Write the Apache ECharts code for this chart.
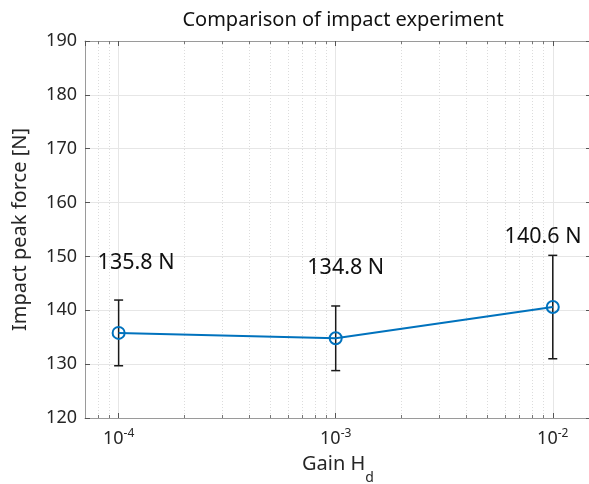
<!DOCTYPE html>
<html>
<head>
<meta charset="utf-8">
<script src="https://cdn.jsdelivr.net/npm/echarts@6/dist/echarts.min.js"></script>
<style>
html,body{margin:0;padding:0;background:#fff;overflow:hidden;}
#chart{width:589px;height:484px;}
</style>
</head>
<body>
<div id="chart"></div>
<script>
// ---- data ----
const gainValues = [1e-4, 1e-3, 1e-2];
const meanForce = [135.8, 134.8, 140.6];
const errorHalf = [6.1, 6.0, 9.6];
const annotationX = [8e-5, 7.4e-4, 6e-3];
const annotationRise = 13;
const yTickMin = 120, yTickMax = 190, yTickStep = 10;
const xMin = 7e-5, xMax = 0.015;
const minorTickValues = [8e-5, 9e-5,
  2e-4, 3e-4, 4e-4, 5e-4, 6e-4, 7e-4, 8e-4, 9e-4,
  2e-3, 3e-3, 4e-3, 5e-3, 6e-3, 7e-3, 8e-3, 9e-3];

const FONT = 'Noto Sans';
const TEXT = '#262626';
const AXIS = '#9a9a9a';
const BLUE = '#0072BD';

const chart = echarts.init(document.getElementById('chart'), null, {renderer: 'canvas'});

function isPow10(v) {
  const l = Math.log10(v);
  return Math.abs(l - Math.round(l)) < 1e-6;
}

const option = {
  backgroundColor: '#fff',
  animation: false,
  title: {
    text: 'Comparison of impact experiment',
    left: 338, textAlign: 'center', top: 5,
    textStyle: {fontFamily: FONT, fontSize: 20, fontWeight: 'normal', color: '#111'}
  },
  grid: {left: 85, width: 506, top: 41, height: 377, containLabel: false, outerBoundsMode: 'none'},
  xAxis: [{
    type: 'log', logBase: 10, min: xMin, max: xMax,
    name: 'Gain H{sub|d}', nameLocation: 'middle', nameGap: 36,
    nameTextStyle: {fontFamily: FONT, fontSize: 20, color: TEXT,
      rich: {sub: {fontFamily: FONT, fontSize: 14, color: TEXT, verticalAlign: 'bottom', padding: [0,0,-11,0]}}},
    axisLine: {show: true, lineStyle: {color: AXIS, width: 1}},
    axisTick: {show: true, inside: true, length: 5, lineStyle: {color: '#555'}},
    axisLabel: {
      margin: 10, fontFamily: FONT, fontSize: 18, color: TEXT,
      showMinLabel: false, showMaxLabel: false,
      formatter: function (v) {
        if (!isPow10(v)) return '';
        return '10{sup|' + Math.round(Math.log10(v)) + '}';
      },
      rich: {sup: {fontFamily: FONT, fontSize: 12, color: TEXT, verticalAlign: 'top', padding: [0,0,10,0]}}
    },
    splitLine: {show: true, lineStyle: {color: '#e6e6e6', width: 1}}
  }, {
    type: 'log', logBase: 10, min: xMin, max: xMax, position: 'top',
    axisLine: {show: true, lineStyle: {color: AXIS, width: 1}},
    axisTick: {show: true, inside: true, length: 5, lineStyle: {color: '#555'}},
    axisLabel: {show: false}, splitLine: {show: false}
  }],
  yAxis: [{
    type: 'value', min: yTickMin, max: yTickMax, interval: yTickStep,
    name: 'Impact peak force [N]', nameLocation: 'middle', nameGap: 55,
    nameTextStyle: {fontFamily: FONT, fontSize: 20, color: TEXT},
    axisLine: {show: true, lineStyle: {color: AXIS, width: 1}},
    axisTick: {show: true, inside: true, length: 5, lineStyle: {color: '#555'}},
    axisLabel: {margin: 8, fontFamily: FONT, fontSize: 18, color: TEXT},
    splitLine: {show: true, lineStyle: {color: '#e6e6e6', width: 1}}
  }, {
    type: 'value', min: yTickMin, max: yTickMax, interval: yTickStep, position: 'right',
    axisLine: {show: true, lineStyle: {color: AXIS, width: 1}},
    axisTick: {show: true, inside: true, length: 5, lineStyle: {color: '#555'}},
    axisLabel: {show: false}, splitLine: {show: false}
  }],
  series: [
    {
      // minor x grid + minor ticks
      type: 'custom', silent: true, z: 1,
      data: minorTickValues.map(v => [v, yTickMin]),
      renderItem: function (params, api) {
        const cs = params.coordSys;
        const x = Math.round(api.coord([api.value(0), api.value(1)])[0]) + 0.5;
        return {type: 'group', children: [
          {type: 'line', shape: {x1: x, y1: cs.y, x2: x, y2: cs.y + cs.height},
           style: {stroke: '#dcdcdc', lineWidth: 1, lineDash: [1, 2]}},
          {type: 'line', shape: {x1: x, y1: cs.y + cs.height, x2: x, y2: cs.y + cs.height - 3},
           style: {stroke: '#777', lineWidth: 1}},
          {type: 'line', shape: {x1: x, y1: cs.y, x2: x, y2: cs.y + 3},
           style: {stroke: '#777', lineWidth: 1}}
        ]};
      }
    },
    {
      // error bars
      type: 'custom', silent: true, z: 3,
      data: gainValues.map((g, i) => [g, meanForce[i] - errorHalf[i], meanForce[i] + errorHalf[i]]),
      renderItem: function (params, api) {
        const lo = api.coord([api.value(0), api.value(1)]);
        const hi = api.coord([api.value(0), api.value(2)]);
        const cap = 4.5;
        const st = {stroke: '#1a1a1a', lineWidth: 1.5};
        return {type: 'group', children: [
          {type: 'line', shape: {x1: lo[0], y1: lo[1], x2: hi[0], y2: hi[1]}, style: st},
          {type: 'line', shape: {x1: lo[0] - cap, y1: lo[1], x2: lo[0] + cap, y2: lo[1]}, style: st},
          {type: 'line', shape: {x1: hi[0] - cap, y1: hi[1], x2: hi[0] + cap, y2: hi[1]}, style: st}
        ]};
      }
    },
    {
      type: 'line', z: 4,
      data: gainValues.map((g, i) => [g, meanForce[i]]),
      symbol: 'circle', symbolSize: 12, showAllSymbol: true,
      lineStyle: {color: BLUE, width: 2},
      itemStyle: {color: 'rgba(0,0,0,0)', borderColor: BLUE, borderWidth: 2}
    },
    {
      // value annotations
      type: 'custom', silent: true, z: 5,
      data: annotationX.map((x, i) => [x, meanForce[i] + annotationRise, meanForce[i]]),
      renderItem: function (params, api) {
        const p = api.coord([api.value(0), api.value(1)]);
        return {type: 'text', x: p[0], y: p[1],
          style: {text: api.value(2).toFixed(1) + ' N', fontFamily: FONT, fontSize: 21.5,
            fill: '#111', align: 'left', verticalAlign: 'middle'}};
      }
    }
  ]
};
chart.setOption(option);
</script>
</body>
</html>
